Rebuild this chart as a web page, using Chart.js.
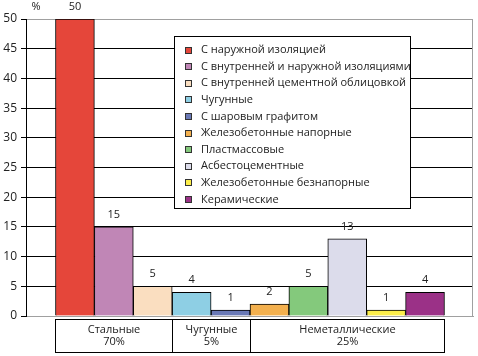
<!DOCTYPE html>
<html><head><meta charset="utf-8">
<script src="https://cdn.jsdelivr.net/npm/chart.js@4/dist/chart.umd.min.js"></script>
<style>html,body{margin:0;padding:0;background:#fff}#wrap{position:relative;width:478px;height:356px}</style>
</head><body><div id="wrap"><canvas id="c" width="478" height="356"></canvas></div>
<script>
const categories = [
  'С наружной изоляцией',
  'С внутренней и наружной изоляциями',
  'С внутренней цементной облицовкой',
  'Чугунные',
  'С шаровым графитом',
  'Железобетонные напорные',
  'Пластмассовые',
  'Асбестоцементные',
  'Железобетонные безнапорные',
  'Керамические'
];
const values = [50, 15, 5, 4, 1, 2, 5, 13, 1, 4];
const colors = ['#E5463A','#C086B6','#FADEC0','#8ECFE4','#6A79B6','#F3B04E','#84C97C','#DCDCEB','#FCEE4A','#9B3187'];
const groupLabels = ['Стальные', 'Чугунные', 'Неметаллические'];
const groupShares = ['70%', '5%', '25%'];
const groupFirst = [0, 3, 5];
const groupLast = [2, 4, 9];
const yTicks = [0, 5, 10, 15, 20, 25, 30, 35, 40, 45, 50];
const unitLabel = '%';

const FONT = '"Open Sans", "Noto Sans", sans-serif';
Chart.defaults.font.family = FONT;
Chart.defaults.font.size = 11;
Chart.defaults.color = '#222';

const overlay = {
  id: 'overlay',
  afterDatasetsDraw(chart) {
    const ctx = chart.ctx, a = chart.chartArea, xs = chart.scales.x;
    ctx.save();
    ctx.lineWidth = 1;
    // right frame line
    ctx.strokeStyle = '#A0A0A0';
    const rx = Math.round(a.right) - 0.5;
    ctx.beginPath(); ctx.moveTo(rx, a.top); ctx.lineTo(rx, a.bottom); ctx.stroke();

    // value labels
    ctx.font = '11px ' + FONT;
    ctx.fillStyle = '#222';
    ctx.textAlign = 'center';
    ctx.textBaseline = 'middle';
    chart.data.datasets.forEach((ds, i) => {
      const el = chart.getDatasetMeta(i).data[0];
      ctx.fillText(String(ds.data[0].y), el.x, el.y - 12);
    });
    // unit label
    ctx.fillText(unitLabel, a.left + 10, 7);

    // legend
    const L = 174.5, T = 36.5, W = 236, H = 172;
    ctx.fillStyle = '#fff';
    ctx.fillRect(L, T, W, H);
    ctx.strokeStyle = '#000';
    ctx.strokeRect(L, T, W, H);
    ctx.textAlign = 'left';
    chart.data.datasets.forEach((ds, i) => {
      const cy = 49.5 + i * 16.6;
      const my = Math.round(cy - 3) + 0.5;
      ctx.fillStyle = ds.backgroundColor;
      ctx.fillRect(185.5, my, 6, 6);
      ctx.strokeStyle = '#333';
      ctx.strokeRect(185.5, my, 6, 6);
      ctx.fillStyle = '#222';
      ctx.fillText(ds.label, 201, cy + 0.5);
    });

    // group table
    const top = Math.round(a.bottom) + 3.5, bottom = 352.5;
    ctx.strokeStyle = '#000';
    ctx.textAlign = 'center';
    groupLabels.forEach((g, i) => {
      const l = Math.round(xs.getPixelForValue(groupFirst[i] - 0.5)) + 0.5;
      const r = Math.round(xs.getPixelForValue(groupLast[i] + 0.5)) + 0.5;
      ctx.strokeRect(l, top, r - l, bottom - top);
      ctx.fillStyle = '#222';
      ctx.fillText(g, (l + r) / 2, top + 10);
      ctx.fillText(groupShares[i], (l + r) / 2, top + 22);
    });
    ctx.restore();
  }
};

new Chart(document.getElementById('c'), {
  type: 'bar',
  data: {
    datasets: categories.map((name, i) => ({
      label: name,
      data: [{ x: i, y: values[i] }],
      backgroundColor: colors[i],
      borderColor: '#000',
      borderWidth: 1,
      grouped: false,
      barPercentage: 1,
      categoryPercentage: 1
    }))
  },
  options: {
    responsive: false,
    animation: false,
    devicePixelRatio: 1,
    layout: { padding: { top: 19, right: 5, bottom: 40, left: 0 } },
    plugins: { legend: { display: false }, tooltip: { enabled: false } },
    scales: {
      x: {
        type: 'linear',
        offset: false,
        min: -1.258,
        max: 10.233,
        afterBuildTicks: (s) => { s.ticks = categories.map((c, i) => ({ value: i })); },
        afterFit: (s) => { s.height = 0; },
        ticks: { display: false },
        grid: { display: false },
        border: { color: '#A0A0A0' }
      },
      y: {
        min: 0,
        max: 50,
        afterBuildTicks: (s) => { s.ticks = yTicks.map(v => ({ value: v })); },
        afterFit: (s) => { s.width = 26; },
        ticks: { padding: 4, color: '#222', font: { size: 12 } },
        grid: {
          color: (c) => (c.tick && (c.tick.value === 0 || c.tick.value === 50)) ? '#A0A0A0' : '#000',
          tickColor: '#000',
          tickLength: 5,
          lineWidth: 1
        },
        border: { color: '#000' }
      }
    }
  },
  plugins: [overlay]
});
</script>
</body></html>
